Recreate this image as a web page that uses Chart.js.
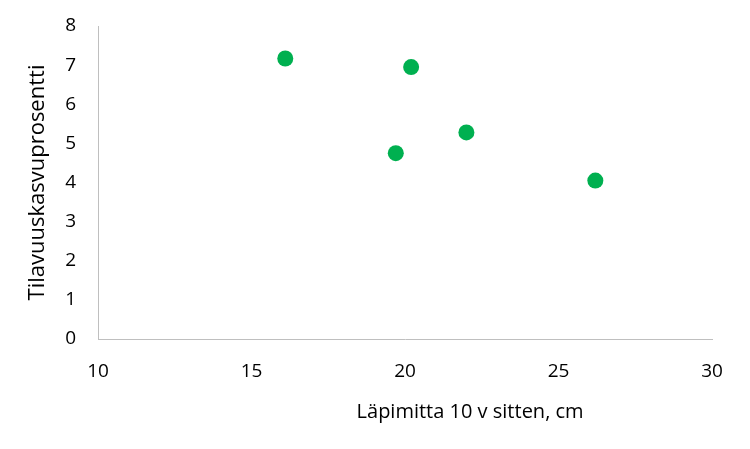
<!DOCTYPE html>
<html>
<head>
<meta charset="utf-8">
<script src="https://cdn.jsdelivr.net/npm/chart.js@4/dist/chart.umd.min.js"></script>
<style>
html,body{margin:0;padding:0;background:#fff;}
#wrap{width:750px;height:449px;position:relative;}
</style>
</head>
<body>
<div id="wrap"><canvas id="c" width="750" height="449"></canvas></div>
<script>
const diameters = [16.1, 20.2, 22.0, 19.7, 26.2];
const growthPct = [7.17, 6.95, 5.28, 4.75, 4.05];
const xTitle = 'Läpimitta 10 v sitten, cm';
const yTitle = 'Tilavuuskasvuprosentti';
const xRange = [10, 30, 5];
const yRange = [0, 8, 1];

const points = diameters.map((d, i) => ({x: d, y: growthPct[i]}));
const FONT = '"Open Sans", sans-serif';
const axisColor = '#bfbfbf';

const xTitlePlugin = {
  id: 'xTitle',
  afterDraw(chart) {
    const {ctx, chartArea} = chart;
    ctx.save();
    ctx.font = '20px ' + FONT;
    ctx.fillStyle = '#000';
    ctx.textAlign = 'center';
    ctx.textBaseline = 'middle';
    const cx = chartArea.left + 0.606 * (chartArea.right - chartArea.left);
    ctx.fillText(xTitle, cx, chartArea.bottom + 73);
    ctx.restore();
  }
};

new Chart(document.getElementById('c'), {
  type: 'scatter',
  data: {
    datasets: [{
      data: points,
      backgroundColor: '#00b050',
      borderWidth: 0,
      pointRadius: 8,
      pointHoverRadius: 8
    }]
  },
  options: {
    responsive: false,
    animation: false,
    events: [],
    layout: {autoPadding: false, padding: {left: 0, top: 26, right: 38, bottom: 0}},
    plugins: {legend: {display: false}, tooltip: {enabled: false}},
    scales: {
      x: {
        type: 'linear',
        min: xRange[0], max: xRange[1],
        ticks: {stepSize: xRange[2], color: '#000', font: {family: FONT, size: 19}, padding: 2},
        grid: {display: false, drawTicks: true, tickLength: 19},
        border: {display: true, color: axisColor, width: 1},
        afterFit(s) { s.height = 110; }
      },
      y: {
        type: 'linear',
        min: yRange[0], max: yRange[1],
        ticks: {stepSize: yRange[2], color: '#000', font: {family: FONT, size: 19}, padding: 2},
        grid: {display: false, drawTicks: true, tickLength: 20},
        border: {display: true, color: axisColor, width: 1},
        title: {display: true, text: yTitle, color: '#000', font: {family: FONT, size: 22}, padding: {top: 25, bottom: 0}},
        afterFit(s) { s.width = 98; }
      }
    }
  },
  plugins: [xTitlePlugin]
});
</script>
</body>
</html>
